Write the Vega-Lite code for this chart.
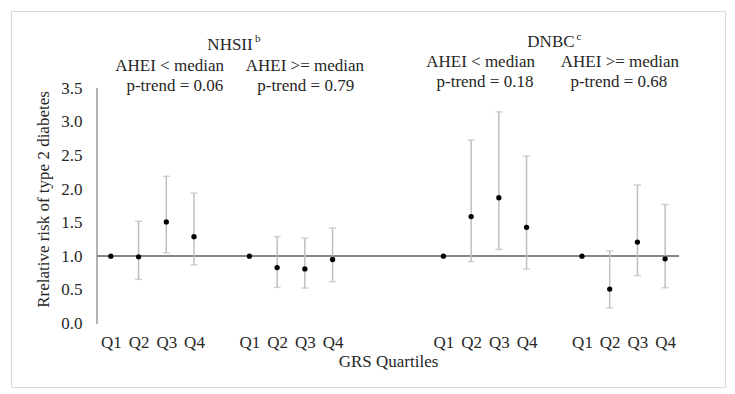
{
  "$schema": "https://vega.github.io/schema/vega-lite/v6.json",
  "autosize": "none",
  "width": 714,
  "height": 376,
  "padding": {"left": 11, "top": 11, "right": 10, "bottom": 7},
  "background": "white",
  "config": {
    "view": {"stroke": "#d9d9d9", "strokeWidth": 1},
    "font": "Liberation Serif, serif",
    "axis": {"grid": false, "labelFont": "Liberation Serif, serif", "titleFont": "Liberation Serif, serif", "labelColor": "#262626", "titleColor": "#262626", "titleFontWeight": "normal"}
  },
  "datasets": {
    "rr": [
      {"study": "NHSII", "diet": "low", "quartile": "Q1", "pos": 0, "rr": 1.0, "lo": null, "hi": null},
      {"study": "NHSII", "diet": "low", "quartile": "Q2", "pos": 1, "rr": 0.99, "lo": 0.655, "hi": 1.52},
      {"study": "NHSII", "diet": "low", "quartile": "Q3", "pos": 2, "rr": 1.51, "lo": 1.05, "hi": 2.19},
      {"study": "NHSII", "diet": "low", "quartile": "Q4", "pos": 3, "rr": 1.29, "lo": 0.87, "hi": 1.94},
      {"study": "NHSII", "diet": "high", "quartile": "Q1", "pos": 5, "rr": 1.0, "lo": null, "hi": null},
      {"study": "NHSII", "diet": "high", "quartile": "Q2", "pos": 6, "rr": 0.83, "lo": 0.535, "hi": 1.29},
      {"study": "NHSII", "diet": "high", "quartile": "Q3", "pos": 7, "rr": 0.81, "lo": 0.525, "hi": 1.27},
      {"study": "NHSII", "diet": "high", "quartile": "Q4", "pos": 8, "rr": 0.95, "lo": 0.62, "hi": 1.42},
      {"study": "DNBC", "diet": "low", "quartile": "Q1", "pos": 12, "rr": 1.0, "lo": null, "hi": null},
      {"study": "DNBC", "diet": "low", "quartile": "Q2", "pos": 13, "rr": 1.59, "lo": 0.92, "hi": 2.73},
      {"study": "DNBC", "diet": "low", "quartile": "Q3", "pos": 14, "rr": 1.87, "lo": 1.1, "hi": 3.15},
      {"study": "DNBC", "diet": "low", "quartile": "Q4", "pos": 15, "rr": 1.43, "lo": 0.81, "hi": 2.49},
      {"study": "DNBC", "diet": "high", "quartile": "Q1", "pos": 17, "rr": 1.0, "lo": null, "hi": null},
      {"study": "DNBC", "diet": "high", "quartile": "Q2", "pos": 18, "rr": 0.51, "lo": 0.23, "hi": 1.08},
      {"study": "DNBC", "diet": "high", "quartile": "Q3", "pos": 19, "rr": 1.21, "lo": 0.71, "hi": 2.06},
      {"study": "DNBC", "diet": "high", "quartile": "Q4", "pos": 20, "rr": 0.96, "lo": 0.53, "hi": 1.77}
    ],
    "notes": [
      {"x": 4.3, "y": 4.145, "text": "NHSII"},
      {"x": 2.12, "y": 3.829, "text": "AHEI < median"},
      {"x": 7.0, "y": 3.829, "text": "AHEI >= median"},
      {"x": 2.31, "y": 3.531, "text": "p-trend = 0.06"},
      {"x": 7.03, "y": 3.531, "text": "p-trend = 0.79"},
      {"x": 15.88, "y": 4.19, "text": "DNBC"},
      {"x": 13.34, "y": 3.888, "text": "AHEI < median"},
      {"x": 18.37, "y": 3.888, "text": "AHEI >= median"},
      {"x": 13.5, "y": 3.59, "text": "p-trend = 0.18"},
      {"x": 18.33, "y": 3.59, "text": "p-trend = 0.68"}
    ],
    "sups": [
      {"x": 5.2, "y": 4.23, "text": "b"},
      {"x": 16.8, "y": 4.27, "text": "c"}
    ]
  },
  "layer": [
    {
      "data": {"name": "rr"},
      "mark": {"type": "rule", "color": "#b3b3b3", "strokeWidth": 1},
      "encoding": {
        "x": {"datum": -0.5, "type": "quantitative", "scale": {"domain": [-3.603, 22.16], "nice": false, "zero": false},
          "axis": {"orient": "bottom", "offset": -58, "domain": false, "ticks": false, "tickSize": 0, "labelPadding": 5, "labelFontSize": 17,
            "values": [0, 1, 2, 3, 5, 6, 7, 8, 12, 13, 14, 15, 17, 18, 19, 20],
            "labelExpr": "datum.value < 4 ? 'Q' + (datum.value + 1) : datum.value < 9 ? 'Q' + (datum.value - 4) : datum.value < 16 ? 'Q' + (datum.value - 11) : 'Q' + (datum.value - 16)",
            "title": "GRS Quartiles", "titleFontSize": 17, "titlePadding": 3, "titleX": 377, "titleAlign": "center", "titleAnchor": null}},
        "y": {"datum": 0, "type": "quantitative", "scale": {"domain": [-0.949, 4.652], "nice": false, "zero": false},
          "axis": {"orient": "left", "offset": -86, "domain": false, "ticks": false, "tickSize": 0, "labelPadding": 15, "labelFontSize": 17,
            "values": [0, 0.5, 1, 1.5, 2, 2.5, 3, 3.5], "format": ".1f",
            "title": "Rrelative risk of type 2 diabetes", "titleFontSize": 17, "titlePadding": 8}},
        "y2": {"datum": 3.5}
      }
    },
    {
      "data": {"name": "rr"},
      "mark": {"type": "rule", "color": "#868686", "strokeWidth": 1.5},
      "encoding": {
        "x": {"datum": -0.5, "type": "quantitative"},
        "x2": {"datum": 20.5},
        "y": {"datum": 1, "type": "quantitative"}
      }
    },
    {
      "data": {"name": "rr"},
      "transform": [{"filter": "isValid(datum.lo)"}],
      "mark": {"type": "rule", "color": "#bfbfbf", "strokeWidth": 1.5},
      "encoding": {
        "x": {"field": "pos", "type": "quantitative"},
        "y": {"field": "lo", "type": "quantitative"},
        "y2": {"field": "hi"}
      }
    },
    {
      "data": {"name": "rr"},
      "transform": [{"filter": "isValid(datum.lo)"}],
      "mark": {"type": "tick", "color": "#bfbfbf", "orient": "horizontal", "size": 7, "thickness": 1.5},
      "encoding": {
        "x": {"field": "pos", "type": "quantitative"},
        "y": {"field": "lo", "type": "quantitative"}
      }
    },
    {
      "data": {"name": "rr"},
      "transform": [{"filter": "isValid(datum.hi)"}],
      "mark": {"type": "tick", "color": "#bfbfbf", "orient": "horizontal", "size": 7, "thickness": 1.5},
      "encoding": {
        "x": {"field": "pos", "type": "quantitative"},
        "y": {"field": "hi", "type": "quantitative"}
      }
    },
    {
      "data": {"name": "rr"},
      "mark": {"type": "circle", "color": "#000000", "opacity": 1, "size": 28},
      "encoding": {
        "x": {"field": "pos", "type": "quantitative"},
        "y": {"field": "rr", "type": "quantitative"}
      }
    },
    {
      "data": {"name": "notes"},
      "mark": {"type": "text", "font": "Liberation Serif, serif", "fontSize": 17, "color": "#262626", "align": "center", "baseline": "middle"},
      "encoding": {
        "x": {"field": "x", "type": "quantitative"},
        "y": {"field": "y", "type": "quantitative"},
        "text": {"field": "text"}
      }
    },
    {
      "data": {"name": "sups"},
      "mark": {"type": "text", "font": "Liberation Serif, serif", "fontSize": 11, "color": "#262626", "align": "left", "baseline": "middle"},
      "encoding": {
        "x": {"field": "x", "type": "quantitative"},
        "y": {"field": "y", "type": "quantitative"},
        "text": {"field": "text"}
      }
    }
  ]
}
